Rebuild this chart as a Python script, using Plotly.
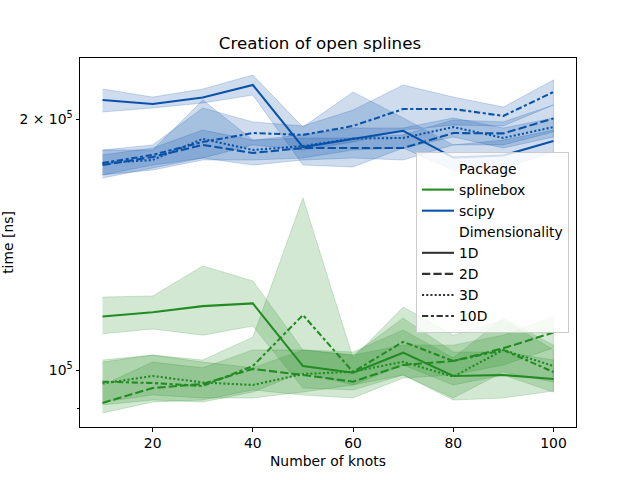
import plotly.graph_objects as go

knots = [10, 20, 30, 40, 50, 60, 70, 80, 90, 100]
dims = ["1D", "2D", "3D", "10D"]
packages = ["splinebox", "scipy"]

# mean times [ns]
splinebox_mean = {
    "1D": [115900, 117300, 119300, 120200, 101100, 99260, 104900, 98360, 98630, 97550],
    "2D": [91290, 95150, 96210, 100300, 98630, 96820, 101400, 102500, 106200, 110900],
    "3D": [96340, 98360, 96610, 95940, 98900, 99530, 102300, 98170, 105700, 101100],
    "10D": [96820, 96470, 95680, 101100, 116400, 99450, 108100, 102500, 105700, 99450],
}
splinebox_hi = {
    "1D": [122300, 122700, 133300, 127900, 105700, 104200, 115400, 105100, 105100, 102800],
    "2D": [95940, 102200, 100600, 105700, 105700, 104200, 107100, 107100, 110100, 115800],
    "3D": [102200, 104200, 102200, 100600, 105700, 105100, 111700, 103400, 115400, 107100],
    "10D": [102800, 104200, 102800, 109500, 160800, 103400, 119000, 110100, 114800, 105700],
}
splinebox_lo = {
    "1D": [110500, 112000, 110100, 112900, 95150, 94630, 98630, 92050, 92560, 94370],
    "2D": [88800, 91540, 92050, 94630, 93330, 92560, 97820, 98630, 101400, 106300],
    "3D": [91540, 93330, 92560, 92560, 94100, 95940, 98630, 92560, 99450, 96740],
    "10D": [90790, 92050, 91540, 94100, 99450, 95940, 101400, 95940, 98630, 94100],
}
scipy_mean = {
    "1D": [210800, 208500, 212200, 219700, 185100, 189300, 193600, 179800, 180800, 188200],
    "2D": [176100, 180100, 186200, 182100, 184600, 184600, 184600, 192400, 192200, 200300],
    "3D": [177100, 178600, 189300, 183600, 185600, 189500, 189800, 195600, 189800, 195600],
    "10D": [177100, 181100, 187700, 192400, 191400, 196200, 205600, 205600, 201700, 215500],
}
scipy_hi = {
    "1D": [217300, 212500, 217300, 225800, 195600, 215500, 200600, 186200, 188700, 194000],
    "2D": [181100, 184600, 194000, 188700, 189800, 189800, 191400, 199500, 198400, 207900],
    "3D": [183600, 183600, 210800, 188700, 191400, 195100, 195100, 200600, 195100, 200600],
    "10D": [183600, 186200, 206200, 198400, 196200, 205000, 219700, 212500, 206700, 222800],
}
scipy_lo = {
    "1D": [203900, 206200, 209000, 213700, 176100, 175200, 184600, 173700, 174700, 182600],
    "2D": [169900, 174700, 179600, 176100, 178600, 179600, 178600, 186200, 186200, 193000],
    "3D": [171400, 173700, 178600, 178600, 179600, 183600, 184600, 190300, 184600, 190300],
    "10D": [171400, 176100, 179600, 186200, 183600, 187700, 194000, 196700, 196200, 207900],
}

colors = {"splinebox": (34, 139, 34), "scipy": (10, 82, 168)}
dashes = {"1D": "solid", "2D": "8.3px,3.1px", "3D": "2.1px,2.1px",
          "10D": "6.25px,2.6px,3.1px,2.6px"}
data = {
    "splinebox": (splinebox_mean, splinebox_lo, splinebox_hi),
    "scipy": (scipy_mean, scipy_lo, scipy_hi),
}

LW = 2.08
fig = go.Figure()

# confidence bands
for pkg in packages:
    r, g, b = colors[pkg]
    mean, lo, hi = data[pkg]
    for d in dims:
        fig.add_trace(go.Scatter(
            x=knots + knots[::-1], y=hi[d] + lo[d][::-1],
            fill="toself", fillcolor=f"rgba({r},{g},{b},0.2)",
            line=dict(color=f"rgba({r},{g},{b},0.2)", width=1),
            mode="lines", showlegend=False, hoverinfo="skip"))

# mean lines
for pkg in packages:
    r, g, b = colors[pkg]
    mean, lo, hi = data[pkg]
    for d in dims:
        fig.add_trace(go.Scatter(
            x=knots, y=mean[d], mode="lines",
            line=dict(color=f"rgb({r},{g},{b})", width=LW, dash=dashes[d]),
            showlegend=False))

# legend entries
def header(name):
    fig.add_trace(go.Scatter(x=[None], y=[None], mode="lines", name=name,
                             line=dict(color="rgba(0,0,0,0)", width=LW)))

header("Package")
for pkg in packages:
    r, g, b = colors[pkg]
    fig.add_trace(go.Scatter(x=[None], y=[None], mode="lines", name=pkg,
                             line=dict(color=f"rgb({r},{g},{b})", width=LW)))
header("Dimensionality")
for d in dims:
    fig.add_trace(go.Scatter(x=[None], y=[None], mode="lines", name=d,
                             line=dict(color="#333333", width=LW, dash=dashes[d])))

font = "DejaVu Sans, Arial, sans-serif"
fig.update_layout(
    width=640, height=480,
    margin=dict(l=80, r=64, t=58, b=53, autoexpand=False),
    paper_bgcolor="white", plot_bgcolor="white",
    font=dict(family=font, size=13.9, color="black"),
    title=dict(text="Creation of open splines", x=0.5, xanchor="center",
               y=1 - 43 / 480, yanchor="middle", font=dict(size=16.7)),
    showlegend=True,
    legend=dict(x=(416 - 80) / 496, y=(427 - 152) / 369, xanchor="left", yanchor="top",
                bgcolor="rgba(255,255,255,0.8)", bordercolor="#cccccc", borderwidth=1,
                font=dict(size=13.9), tracegroupgap=0, itemwidth=32),
)
fig.update_xaxes(
    range=[5.5, 104.5], tickvals=[20, 40, 60, 80, 100], automargin=False,
    showline=True, mirror=True, linecolor="black", linewidth=1,
    ticks="outside", ticklen=3.5, tickwidth=1, tickcolor="black",
    showgrid=False, zeroline=False, tickfont=dict(size=13.9),
    title=dict(text="Number of knots", standoff=6, font=dict(size=13.9)),
)
fig.update_yaxes(
    type="log", range=[4.93164, 5.3742], automargin=False,
    tickvals=[1e5, 2e5], ticktext=["10<sup>5</sup>", "2 × 10<sup>5</sup>"],
    minor=dict(tickvals=[9e4], ticks="outside", ticklen=2, tickwidth=1, tickcolor="black"),
    showline=True, mirror=True, linecolor="black", linewidth=1,
    ticks="outside", ticklen=3.5, tickwidth=1, tickcolor="black",
    showgrid=False, zeroline=False, tickfont=dict(size=13.9),
    title=dict(text="time [ns]", standoff=8, font=dict(size=13.9)),
)

fig.write_html("out.html")
